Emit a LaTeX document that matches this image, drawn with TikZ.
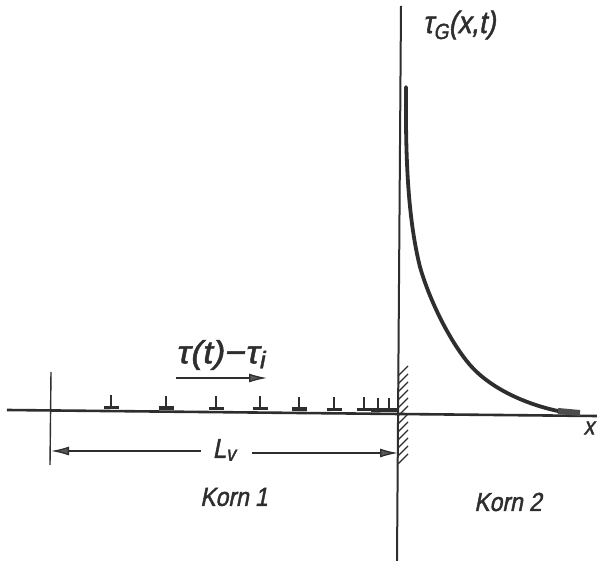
\documentclass[tikz,border=0pt]{standalone}
\usepackage{fontspec}
\setmainfont{Liberation Sans}
\newfontfamily\hand[FakeSlant=0.2,FakeBold=1.6,FakeStretch=0.88]{Liberation Sans}
\newfontfamily\handw[FakeSlant=0.2,FakeBold=1.6,FakeStretch=1.12]{Liberation Sans}
\usetikzlibrary{arrows.meta}
\definecolor{ink}{HTML}{2E2E2E}
\tikzset{
  lbl/.style={text=ink,font=\hand\fontsize{26}{28}\selectfont,inner sep=0pt},
  axis/.style={draw=ink,line width=2pt},
  thin line/.style={draw=ink,line width=1.4pt},
  dim/.style={draw=ink,line width=1.3pt,-{Latex[length=18pt,width=9pt,fill=ink!80]}},
  disl/.pic={\draw[ink,line width=2.4pt] (0,-16)--(0,-3);\draw[ink,line width=3.2pt] (-7.5,-3.5)--(7.5,-3.5);},
  hatchl/.style={draw=ink,line width=1.4pt}
}
\begin{document}
\begin{tikzpicture}[x=1pt,y=-1pt]
\useasboundingbox (0,0) rectangle (597,561);
\fill[white] (0,0) rectangle (597,561);
% axes
\coordinate (axL) at (7,410);
\coordinate (axR) at (597,416);
\coordinate (vT) at (401,6);
\coordinate (vB) at (397,561);
\draw[axis,line width=2.6pt] (axL) -- (400,414) -- (axR);
\draw[axis] (vT) -- (vB);
% left tick
\coordinate (tT) at (51,372);
\coordinate (tB) at (50,465);
\draw[thin line] (tT) -- (tB);
% hatching
\foreach \y in {366,374,382,390,398,406,414,422,430,438,446,454}
  \draw[hatchl] (398,\y+10) -- (408,\y);
% dislocations
\foreach \x/\y in {111/411,166/411.5,216/412,260/412,299/412.5,334/413,364/413,378/413.5,389/413.5}
  \pic at (\x,\y) {disl};
% curve
\coordinate (c0) at (406,87);
\coordinate (cm) at (420,267);
\coordinate (cn) at (470,365);
\coordinate (c1) at (558,411);
\coordinate (c2) at (580,413);
\draw[ink,line width=3.8pt,line cap=round] (c0)
  .. controls (405.5,150) and (407,215) .. (cm)
  .. controls (430,302) and (451,343) .. (cn)
  .. controls (490,388) and (525,404) .. (c1);
\draw[ink!85,line width=6pt] (c1) -- (c2);
% dimension
\coordinate (dA) at (201,451);
\coordinate (dAe) at (51,451);
\coordinate (dB) at (252,453);
\coordinate (dBe) at (398,453);
\draw[dim] (dA) -- (dAe);
\draw[dim] (dB) -- (dBe);
% load arrow
\coordinate (aL) at (176,378);
\coordinate (aR) at (267,378);
\draw[dim] (aL) -- (aR);
% labels
\node[lbl,font=\handw\fontsize{32}{34}\selectfont] (tl) at (220,355) {τ(t)−τ\raisebox{-5pt}{\fontsize{24}{26}\selectfont i}};
\node[lbl,font=\hand\fontsize{27}{29}\selectfont] (lv) at (224,450) {L\raisebox{-3pt}{\fontsize{21}{23}\selectfont v}};
\node[lbl] (k1) at (234,497) {Korn 1};
\node[lbl] (k2) at (508,502) {Korn 2};
\node[lbl,font=\hand\fontsize{24}{26}\selectfont] (xl) at (589,428) {x};
\node[lbl,font=\hand\fontsize{31}{33}\selectfont] (tg) at (459,25) {τ\raisebox{-6pt}{\fontsize{22}{24}\selectfont G}(x,t)};
\end{tikzpicture}
\end{document}
